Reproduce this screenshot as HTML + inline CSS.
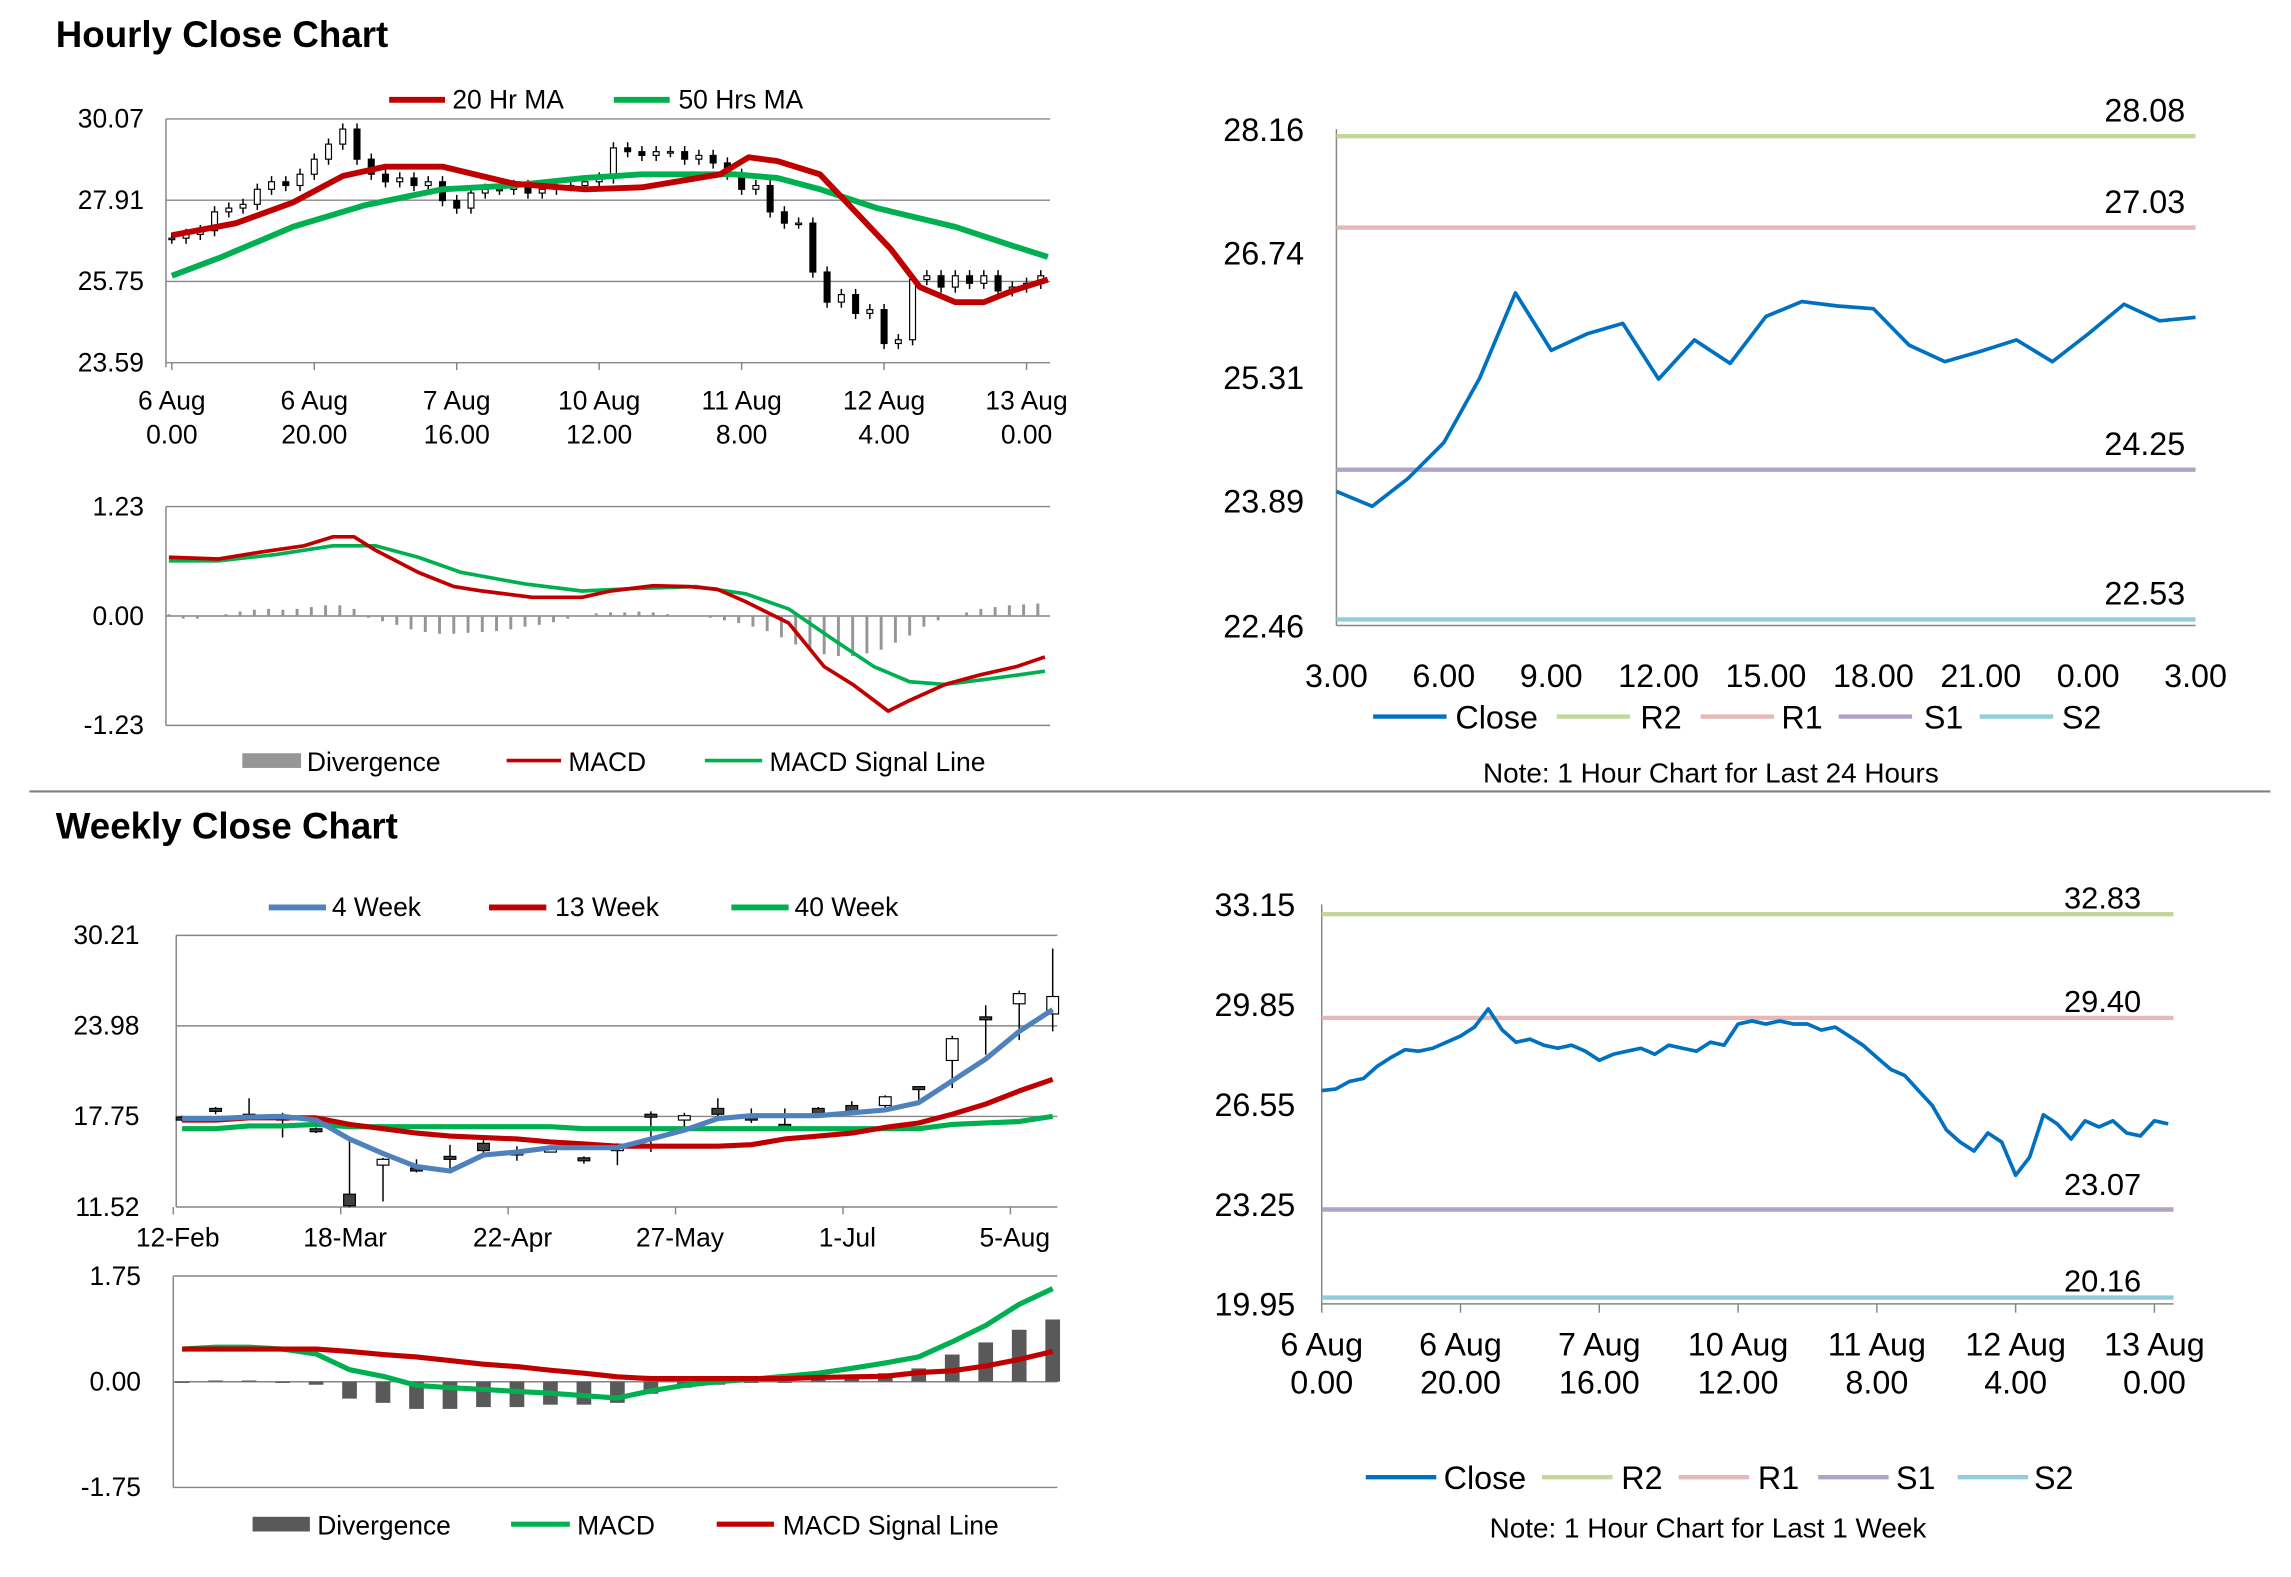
<!DOCTYPE html>
<html><head><meta charset="utf-8"><style>
html,body{margin:0;padding:0;background:#fff;}
svg{display:block;}
text{font-family:"Liberation Sans Narrow","Liberation Sans",sans-serif;}
</style></head><body>
<svg id="s" width="2291" height="1577" viewBox="0 0 1560 1074" preserveAspectRatio="none" xmlns="http://www.w3.org/2000/svg"></svg>
<script>
// ---------- DATA ----------
// Hourly close chart (2-hour samples, hour 0..122)
const hCloses=[26.9,27.0,27.1,27.6,27.7,27.8,28.2,28.4,28.3,28.6,29.0,29.4,29.8,29.0,28.6,28.4,28.5,28.3,28.4,27.9,27.7,28.1,28.2,28.2,28.3,28.1,28.2,28.3,28.3,28.4,28.5,29.3,29.2,29.1,29.2,29.2,29.0,29.1,28.9,28.6,28.2,28.3,27.6,27.3,27.3,26.0,25.2,25.4,24.9,25.0,24.1,24.2,25.8,25.9,25.6,25.9,25.7,25.9,25.5,25.6,25.7,25.9];
const hMAHours=[0,9,17,24,30,38,48,58,66,77,81,85,91,96,101,105,110,114,118,123];
const hMA20=[26.98,27.3,27.85,28.55,28.8,28.8,28.35,28.2,28.25,28.6,29.05,28.95,28.6,27.6,26.6,25.6,25.2,25.2,25.5,25.8];
const hMA50Hours=[0,7,17,27,38,48,58,66,79,85,91,99,110,118,123];
const hMA50=[25.9,26.4,27.2,27.77,28.2,28.3,28.5,28.6,28.6,28.5,28.2,27.7,27.2,26.7,26.4];
const hMacdHours=[0,7,13,19,23,26,29,35,40,44,51,58,62,68,73,77,81,87,92,96,99,101,104,109,114,119,123];
const hMacd=[0.66,0.64,0.72,0.79,0.89,0.89,0.74,0.49,0.33,0.28,0.21,0.21,0.28,0.34,0.33,0.30,0.16,-0.08,-0.57,-0.77,-0.95,-1.07,-0.95,-0.77,-0.66,-0.57,-0.46];
const hSigHours=[0,7,15,23,29,35,41,50,58,66,74,81,87,93,99,104,109,115,123];
const hSig=[0.62,0.62,0.69,0.79,0.79,0.66,0.49,0.36,0.28,0.31,0.33,0.25,0.08,-0.25,-0.57,-0.74,-0.77,-0.71,-0.62];
const hDiv=[0.02,-0.03,-0.03,0.0,0.02,0.05,0.07,0.08,0.07,0.08,0.1,0.12,0.12,0.08,-0.02,-0.06,-0.1,-0.15,-0.18,-0.2,-0.2,-0.19,-0.18,-0.17,-0.15,-0.12,-0.1,-0.07,-0.03,0.0,0.03,0.04,0.04,0.05,0.04,0.02,0.0,0.0,-0.02,-0.05,-0.08,-0.12,-0.17,-0.24,-0.32,-0.38,-0.43,-0.45,-0.45,-0.42,-0.38,-0.3,-0.22,-0.12,-0.05,0.0,0.04,0.08,0.1,0.12,0.13,0.14];
const hXTicks1=["6 Aug","6 Aug","7 Aug","10 Aug","11 Aug","12 Aug","13 Aug"];
const hXTicks2=["0.00","20.00","16.00","12.00","8.00","4.00","0.00"];
// 24-hour chart
const dClose=[24.0,23.83,24.15,24.56,25.3,26.28,25.62,25.81,25.93,25.29,25.74,25.47,26.01,26.18,26.13,26.1,25.68,25.49,25.61,25.74,25.49,25.81,26.15,25.96,26.0];
const dTicks=["3.00","6.00","9.00","12.00","15.00","18.00","21.00","0.00","3.00"];
const dLevels=[28.08,27.03,24.25,22.53];
// Weekly
const wOpen=[17.7,18.3,17.9,17.7,16.9,12.4,14.4,14.2,15.0,15.9,15.1,15.4,14.9,15.5,17.9,17.5,18.3,17.7,17.2,18.3,18.5,18.5,19.8,21.6,24.6,25.5,24.8];
const wHigh=[17.8,18.4,19.0,18.0,17.0,16.3,14.9,14.8,15.8,16.3,15.7,15.6,15.0,15.9,18.1,18.0,19.0,18.3,18.3,18.4,18.8,19.2,19.8,23.3,25.4,26.4,29.3];
const wLow=[17.4,17.9,17.6,16.3,16.6,11.5,11.9,13.9,14.0,15.2,14.7,15.3,14.5,14.4,15.3,17.0,17.7,17.3,17.0,17.7,17.9,18.3,18.9,19.7,22.0,23.0,23.6];
const wClose=[17.5,18.1,17.7,17.6,16.7,11.6,14.8,14.0,14.8,15.4,15.3,15.5,14.8,15.6,17.8,17.8,17.9,17.6,17.1,17.9,18.1,19.1,19.7,23.1,24.4,26.2,26.0];
const w4=[17.6,17.6,17.7,17.75,17.5,16.2,15.2,14.3,14.0,15.1,15.3,15.6,15.6,15.6,16.2,16.8,17.6,17.8,17.8,17.8,18.0,18.2,18.7,20.2,21.7,23.6,25.1];
const w13=[17.5,17.5,17.65,17.65,17.65,17.2,16.9,16.6,16.4,16.3,16.2,16.0,15.85,15.7,15.7,15.7,15.7,15.8,16.2,16.4,16.6,17.0,17.3,17.9,18.6,19.5,20.3];
const w40=[16.9,16.9,17.1,17.1,17.2,17.05,17.05,17.05,17.05,17.05,17.05,17.05,16.9,16.9,16.9,16.9,16.9,16.9,16.9,16.9,16.9,16.9,16.9,17.2,17.3,17.4,17.75];
const wMacd=[0.54,0.57,0.57,0.54,0.46,0.2,0.09,-0.06,-0.1,-0.13,-0.16,-0.19,-0.23,-0.27,-0.15,-0.06,0.0,0.04,0.09,0.14,0.22,0.31,0.41,0.66,0.93,1.28,1.54];
const wSig=[0.54,0.54,0.54,0.54,0.54,0.5,0.45,0.41,0.35,0.29,0.25,0.19,0.14,0.08,0.05,0.05,0.05,0.05,0.05,0.07,0.08,0.09,0.15,0.18,0.26,0.37,0.5];
const wDiv=[-0.02,0.02,0.02,-0.02,-0.05,-0.28,-0.35,-0.45,-0.45,-0.42,-0.42,-0.38,-0.38,-0.35,-0.2,-0.1,-0.05,-0.02,0.0,0.03,0.06,0.14,0.22,0.45,0.65,0.86,1.03];
const wTicks=["12-Feb","18-Mar","22-Apr","27-May","1-Jul","5-Aug"];
// 1 week chart (2-hour samples)
const kClose=[27.0,27.05,27.3,27.4,27.8,28.1,28.35,28.3,28.4,28.6,28.8,29.1,29.7,29.0,28.6,28.7,28.5,28.4,28.5,28.3,28.0,28.2,28.3,28.4,28.2,28.5,28.4,28.3,28.6,28.5,29.2,29.3,29.2,29.3,29.2,29.2,29.0,29.1,28.8,28.5,28.1,27.7,27.5,27.0,26.5,25.7,25.3,25.0,25.6,25.3,24.2,24.8,26.2,25.9,25.4,26.0,25.8,26.0,25.6,25.5,26.0,25.9];
const kLevels=[32.83,29.40,23.07,20.16];
const kTicks1=["6 Aug","6 Aug","7 Aug","10 Aug","11 Aug","12 Aug","13 Aug"];
const kTicks2=["0.00","20.00","16.00","12.00","8.00","4.00","0.00"];

// ---------- helpers ----------
const S=document.getElementById('s');const NS='http://www.w3.org/2000/svg';
function mk(tag,attrs,name){const e=document.createElementNS(NS,tag);for(const k in attrs)e.setAttribute(k,attrs[k]);


S.appendChild(e);return e;}
function ln(x1,y1,x2,y2,c,w,name){return mk('line',{x1,y1,x2,y2,stroke:c,'stroke-width':w},name);}
function tx(x,y,s,size,anchor,name,weight){const t=mk('text',{x,y,'font-size':size,'text-anchor':anchor||'start',fill:'#000','font-weight':weight||'normal'},name);t.textContent=s;return t;}
function pl(pts,c,w,name){return mk('polyline',{points:pts.map(p=>p[0].toFixed(1)+','+p[1].toFixed(1)).join(' '),fill:'none',stroke:c,'stroke-width':w,'stroke-linejoin':'round'},name);}
const RED='#c00000',GRN='#00b050',BLU='#4f81bd',DB='#0070c0';

// ---------- titles & separators ----------
tx(38,32,'Hourly Close Chart',25,'start','hourly-title','bold');
tx(38,571,'Weekly Close Chart',25,'start','weekly-title','bold');
ln(20,539,1546,539,'#808080',1.5,'section-separator');
ln(20,1075,1546,1075,'#808080',1.5,'bottom-separator');

// ---------- Hourly candle chart ----------
(function(){
 const x0=117,px=4.85,yT=81,yB=247,vT=30.07,vB=23.59;
 const X=h=>x0+h*px, Y=v=>yT+(vT-v)/(vT-vB)*(yB-yT);
 [30.07,27.91,25.75,23.59].forEach(v=>{ln(113,Y(v),715,Y(v),'#868686',1,'hourly-gridline');tx(98,Y(v)+6,v.toFixed(2),18,'end','hourly-y-label');});
 ln(113,81,113,250,'#868686',1,'hourly-y-axis');
 for(let i=0;i<7;i++){ln(X(i*20),247,X(i*20),252,'#868686',1,'hourly-x-tick');tx(X(i*20),279,hXTicks1[i],18,'middle','hourly-x-label');tx(X(i*20),302,hXTicks2[i],18,'middle','hourly-x-label');}
 hCloses.forEach((c,i)=>{const o=i?hCloses[i-1]:c;const hi=Math.max(o,c)+0.15,lo=Math.min(o,c)-0.15;const x=X(i*2);
  ln(x,Y(hi),x,Y(lo),'#000',1,'hourly-candle-wick');
  mk('rect',{x:x-2,y:Y(Math.max(o,c)),width:4,height:Math.max(1,Math.abs(Y(o)-Y(c))),fill:c>=o?'#fff':'#000',stroke:'#000','stroke-width':0.8},'hourly-candle');});
 pl(hMA50Hours.map((h,i)=>[X(h),Y(hMA50[i])]),GRN,4,'ma50-line');
 pl(hMAHours.map((h,i)=>[X(h),Y(hMA20[i])]),RED,4,'ma20-line');
 ln(265,68,303,68,RED,4,'legend-ma20-swatch');tx(308,74,'20 Hr MA',18,'start','legend-ma20');
 ln(418,68,456,68,GRN,4,'legend-ma50-swatch');tx(462,74,'50 Hrs MA',18,'start','legend-ma50');
})();

// ---------- Hourly MACD ----------
(function(){
 const x0=115,px=4.85,yT=345,yB=494,vT=1.23,vB=-1.23;
 const X=h=>x0+h*px, Y=v=>yT+(vT-v)/(vT-vB)*(yB-yT);
 [1.23,0,-1.23].forEach(v=>{ln(113,Y(v),715,Y(v),'#868686',1,'hmacd-gridline');tx(98,Y(v)+6,v.toFixed(2),18,'end','hmacd-y-label');});
 ln(113,345,113,494,'#868686',1,'hmacd-y-axis');
 hDiv.forEach((d,i)=>{mk('rect',{x:X(i*2)-1,y:Math.min(Y(0),Y(d)),width:2,height:Math.max(0.5,Math.abs(Y(d)-Y(0))),fill:'#969696'},'hmacd-divergence-bar');});
 pl(hSigHours.map((h,i)=>[X(h),Y(hSig[i])]),GRN,2.5,'hmacd-signal-line');
 pl(hMacdHours.map((h,i)=>[X(h),Y(hMacd[i])]),RED,2.5,'hmacd-line');
 mk('rect',{x:165,y:513,width:40,height:10,fill:'#969696'},'legend-hdiv-swatch');tx(209,525,'Divergence',18,'start','legend-hdiv');
 ln(345,518,382,518,RED,2.5,'legend-hmacd-swatch');tx(387,525,'MACD',18,'start','legend-hmacd');
 ln(480,518,519,518,GRN,2.5,'legend-hsig-swatch');tx(524,525,'MACD Signal Line',18,'start','legend-hsig');
})();

// ---------- 24h chart ----------
(function(){
 const x0=910,px=24.375,yT=88,yB=426,vT=28.16,vB=22.46;
 const X=h=>x0+h*px, Y=v=>yT+(vT-v)/(vT-vB)*(yB-yT);
 [28.16,26.74,25.31,23.89,22.46].forEach(v=>tx(888,Y(v)+8,v.toFixed(2),22,'end','day-y-label'));
 ln(910,88,910,426,'#868686',1,'day-y-axis');ln(910,426,1495,426,'#868686',1,'day-x-axis');
 dTicks.forEach((t,i)=>tx(X(i*3),468,t,22,'middle','day-x-label'));
 const cols=['#c3d69b','#e6b9b8','#b3a2c7','#93cddd'];const nm=['r2','r1','s1','s2'];
 dLevels.forEach((v,i)=>{ln(910,Y(v),1495,Y(v),cols[i],3,'day-'+nm[i]+'-line');tx(1488,Y(v)-10,v.toFixed(2),22,'end','day-'+nm[i]+'-value');});
 pl(dClose.map((v,i)=>[X(i),Y(v)]),DB,2.5,'day-close-line');
 const L=[[935,991,'Close',DB],[1060,1117,'R2',cols[0]],[1158,1213,'R1',cols[1]],[1252,1310,'S1',cols[2]],[1348,1404,'S2',cols[3]]];
 L.forEach(l=>{ln(l[0],488,l[0]+50,488,l[3],3,'legend-day-swatch');tx(l[1],496,l[2],22,'start','legend-day-entry');});
 tx(1165,533,'Note: 1 Hour Chart for Last 24 Hours',19,'middle','day-note');
})();

// ---------- Weekly candle chart ----------
(function(){
 const x0=121,px=22.8,yT=637,yB=822,vT=30.21,vB=11.52;
 const X=i=>x0+i*px, Y=v=>yT+(vT-v)/(vT-vB)*(yB-yT);
 [30.21,23.98,17.75,11.52].forEach(v=>{ln(120,Y(v),720,Y(v),'#868686',1,'weekly-gridline');tx(95,Y(v)+6,v.toFixed(2),18,'end','weekly-y-label');});
 ln(120,637,120,822,'#868686',1,'weekly-y-axis');
 wTicks.forEach((t,i)=>{ln(X(i*5)-3,822,X(i*5)-3,827,'#868686',1,'weekly-x-tick');tx(X(i*5),849,t,18,'middle','weekly-x-label');});
 wClose.forEach((c,i)=>{const o=wOpen[i];const x=X(i)+3;
  ln(x,Y(wHigh[i]),x,Y(wLow[i]),'#000',1,'weekly-candle-wick');
  mk('rect',{x:x-4,y:Y(Math.max(o,c)),width:8,height:Math.max(2,Math.abs(Y(o)-Y(c))),fill:c>=o?'#fff':'#404040',stroke:'#000','stroke-width':0.8},'weekly-candle');});
 pl(w40.map((v,i)=>[X(i)+3,Y(v)]),GRN,3.5,'ma40-line');
 pl(w13.map((v,i)=>[X(i)+3,Y(v)]),RED,3.5,'ma13-line');
 pl(w4.map((v,i)=>[X(i)+3,Y(v)]),BLU,3.5,'ma4-line');
 ln(183,618,222,618,BLU,4,'legend-4w-swatch');tx(226,624,'4 Week',18,'start','legend-4w');
 ln(333,618,372,618,RED,4,'legend-13w-swatch');tx(378,624,'13 Week',18,'start','legend-13w');
 ln(498,618,537,618,GRN,4,'legend-40w-swatch');tx(541,624,'40 Week',18,'start','legend-40w');
})();

// ---------- Weekly MACD ----------
(function(){
 const x0=121,px=22.8,yT=869,yB=1013,vT=1.75,vB=-1.75;
 const X=i=>x0+i*px, Y=v=>yT+(vT-v)/(vT-vB)*(yB-yT);
 [1.75,0,-1.75].forEach(v=>{ln(118,Y(v),720,Y(v),'#868686',1,'wmacd-gridline');tx(96,Y(v)+6,v.toFixed(2),18,'end','wmacd-y-label');});
 ln(118,869,118,1013,'#868686',1,'wmacd-y-axis');
 wDiv.forEach((d,i)=>{mk('rect',{x:X(i)-2,y:Math.min(Y(0),Y(d)),width:10,height:Math.max(0.8,Math.abs(Y(d)-Y(0))),fill:'#595959'},'wmacd-divergence-bar');});
 pl(wMacd.map((v,i)=>[X(i)+3,Y(v)]),GRN,3.5,'wmacd-line');
 pl(wSig.map((v,i)=>[X(i)+3,Y(v)]),RED,3.5,'wmacd-signal-line');
 mk('rect',{x:172,y:1033,width:39,height:10,fill:'#595959'},'legend-wdiv-swatch');tx(216,1045,'Divergence',18,'start','legend-wdiv');
 ln(348,1038,388,1038,GRN,3.5,'legend-wmacd-swatch');tx(393,1045,'MACD',18,'start','legend-wmacd');
 ln(488,1038,527,1038,RED,3.5,'legend-wsig-swatch');tx(533,1045,'MACD Signal Line',18,'start','legend-wsig');
})();

// ---------- 1 week chart ----------
(function(){
 const x0=900,px=4.725,yT=616,yB=888,vT=33.15,vB=19.95;
 const X=h=>x0+h*px, Y=v=>yT+(vT-v)/(vT-vB)*(yB-yT);
 [33.15,29.85,26.55,23.25,19.95].forEach(v=>tx(882,Y(v)+8,v.toFixed(2),22,'end','week-y-label'));
 ln(900,616,900,888,'#868686',1,'week-y-axis');ln(900,888,1480,888,'#868686',1,'week-x-axis');
 for(let i=0;i<7;i++){ln(X(i*20),888,X(i*20),894,'#868686',1,'week-x-tick');tx(X(i*20),923,kTicks1[i],22,'middle','week-x-label');tx(X(i*20),949,kTicks2[i],22,'middle','week-x-label');}
 const cols=['#c3d69b','#e6b9b8','#b3a2c7','#93cddd'];const nm=['r2','r1','s1','s2'];
 kLevels.forEach((v,i)=>{ln(900,Y(v),1480,Y(v),cols[i],3,'week-'+nm[i]+'-line');
  const ly=(i==2)?Y(v)-10:Y(v)-4;tx(1458,ly,v.toFixed(2),21,'end','week-'+nm[i]+'-value');});
 pl(kClose.map((v,i)=>[X(i*2),Y(v)]),DB,2.5,'week-close-line');
 const L=[[930,983,'Close',DB],[1050,1104,'R2',cols[0]],[1143,1197,'R1',cols[1]],[1238,1291,'S1',cols[2]],[1333,1385,'S2',cols[3]]];
 L.forEach(l=>{ln(l[0],1006,l[0]+48,1006,l[3],3,'legend-week-swatch');tx(l[1],1014,l[2],22,'start','legend-week-entry');});
 tx(1163,1047,'Note: 1 Hour Chart for Last 1 Week',19,'middle','week-note');
})();
</script>
</body></html>
